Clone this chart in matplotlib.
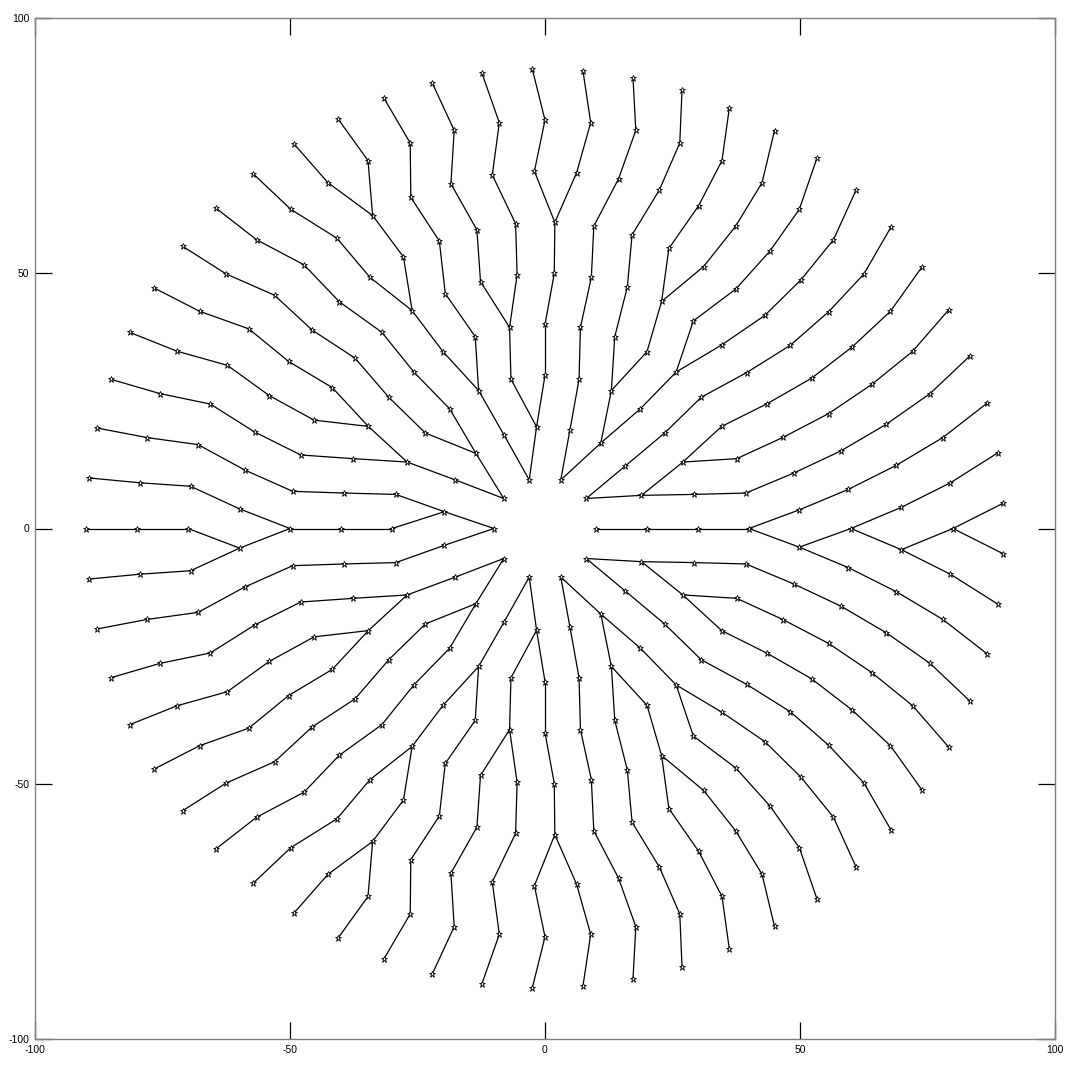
import numpy as np
import matplotlib
matplotlib.use('Agg')
import matplotlib.pyplot as plt

plt.rcParams['axes.unicode_minus'] = False

# ring radii (one ring of nodes every 10 units)
radii = [10, 20, 30, 40, 50, 60, 70, 80, 90]

# node angles (degrees) on the upper half of each ring, 0..180
# the lower half is the mirror image of these
ang1 = [0, 36, 72, 108, 144, 180]
ang2 = [0, 18.95, 37.89, 56.84, 75.79, 94.74, 113.68, 132.63, 151.58, 170.53]
ang3 = [0, 12.86, 25.71, 38.57, 51.43, 64.29, 77.14, 90, 102.86, 115.71,
        128.57, 141.43, 154.29, 167.14, 180]
ang4 = [0, 10, 20, 30, 40, 50, 60, 70, 80, 90, 100, 110, 120, 130, 140,
        150, 160, 170, 180]
ang5 = [4.19, 12.56, 20.93, 29.30, 37.67, 46.05, 54.42, 62.79, 71.16, 79.53,
        87.91, 96.28, 104.65, 113.02, 121.40, 129.77, 138.14, 146.51, 154.88,
        163.26, 171.63, 180]
ang6 = [0, 7.35, 14.69, 22.04, 29.39, 36.73, 44.08, 51.43, 58.78, 66.12,
        73.47, 80.82, 88.16, 95.51, 102.86, 110.20, 117.55, 124.90, 132.24,
        139.59, 146.94, 154.29, 161.63, 168.98, 176.33]
ang7 = [3.40, 10.19, 16.98, 23.77, 30.57, 37.36, 44.15, 50.94, 57.74, 64.53,
        71.32, 78.11, 84.91, 91.70, 98.49, 105.28, 112.08, 118.87, 125.66,
        132.45, 139.25, 146.04, 152.83, 159.62, 166.42, 173.21, 180]
ang8 = [0, 6.43, 12.86, 19.29, 25.71, 32.14, 38.57, 45, 51.43, 57.86, 64.29,
        70.71, 77.14, 83.57, 90, 96.43, 102.86, 109.29, 115.71, 122.14,
        128.57, 135, 141.43, 147.86, 154.29, 160.71, 167.14, 173.57, 180]
ang9 = [3.16, 9.47, 15.79, 22.11, 28.42, 34.74, 41.05, 47.37, 53.68, 60,
        66.32, 72.63, 78.95, 85.26, 91.58, 97.89, 104.21, 110.53, 116.84,
        123.16, 129.47, 135.79, 142.11, 148.42, 154.74, 161.05, 167.37,
        173.68, 180]

# index of the node on the next inner ring that each node is joined to
par2 = [0, 1, 1, 2, 2, 3, 3, 4, 4, 5]
par3 = [0, 1, 1, 2, 3, 3, 4, 5, 5, 6, 7, 7, 8, 9, 9]
par4 = [0, 1, 2, 2, 3, 4, 5, 5, 6, 7, 8, 9, 9, 10, 11, 12, 12, 13, 14]
par5 = [0, 1, 2, 3, 4, 5, 5, 6, 7, 8, 9, 10, 10, 11, 12, 13, 14, 15, 15,
        16, 17, 18]
par6 = [0, 0, 1, 2, 3, 4, 5, 6, 7, 7, 8, 9, 10, 11, 12, 13, 14, 14, 15, 16,
        17, 18, 19, 20, 21]
par7 = [0, 1, 2, 3, 4, 5, 6, 7, 8, 9, 10, 11, 12, 12, 13, 14, 15, 16, 17,
        18, 19, 20, 21, 22, 23, 24, 24]
par8 = [0, 0, 1, 2, 3, 4, 5, 6, 7, 8, 9, 10, 11, 12, 13, 14, 15, 16, 17, 17,
        18, 19, 20, 21, 22, 23, 24, 25, 26]
par9 = [0, 1, 2, 3, 4, 5, 6, 7, 8, 9, 10, 11, 12, 13, 14, 15, 16, 17, 18,
        19, 20, 21, 22, 23, 24, 25, 26, 27, 28]

# nodes on the axis whose link goes to the node below the axis (ring, angle)
below_links = [(6, 0), (7, 180), (8, 0)]

angles = [ang1, ang2, ang3, ang4, ang5, ang6, ang7, ang8, ang9]
parents = [None, par2, par3, par4, par5, par6, par7, par8, par9]


def pol(r, a):
    t = np.deg2rad(a)
    return r * np.cos(t), r * np.sin(t)


fig = plt.figure(figsize=(10.78, 10.68), dpi=100)
ax = fig.add_axes([35 / 1078, 29 / 1068, 1020 / 1078, 1021 / 1068])

# links between rings
for k in range(1, len(radii)):
    for i, th in enumerate(angles[k]):
        ph = angles[k - 1][parents[k][i]]
        if (k + 1, th) in below_links:
            ph = -ph
        x0, y0 = pol(radii[k], th)
        x1, y1 = pol(radii[k - 1], ph)
        ax.plot([x0, x1], [y0, y1], color='black', lw=0.9)
        if 0 < th < 180:
            ax.plot([x0, x1], [-y0, -y1], color='black', lw=0.9)

# nodes
xs, ys = [], []
for k in range(len(radii)):
    for th in angles[k]:
        x, y = pol(radii[k], th)
        xs.append(x)
        ys.append(y)
        if 0 < th < 180:
            xs.append(x)
            ys.append(-y)
ax.plot(xs, ys, linestyle='none', marker='*', markersize=5,
        markerfacecolor='white', markeredgecolor='black', markeredgewidth=0.6)

ax.set_xlim(-100, 100)
ax.set_ylim(-100, 100)
ticks = [-100, -50, 0, 50, 100]
ax.set_xticks(ticks)
ax.set_yticks(ticks)
ax.tick_params(direction='in', length=12, width=0.9, top=True, right=True,
               labelsize=7.5, pad=4, colors='black')
for lab in ax.get_xticklabels() + ax.get_yticklabels():
    lab.set_fontfamily('Liberation Sans')
for s in ax.spines.values():
    s.set_color('#808080')
    s.set_linewidth(1.0)

fig.savefig('out.png', dpi=100)
